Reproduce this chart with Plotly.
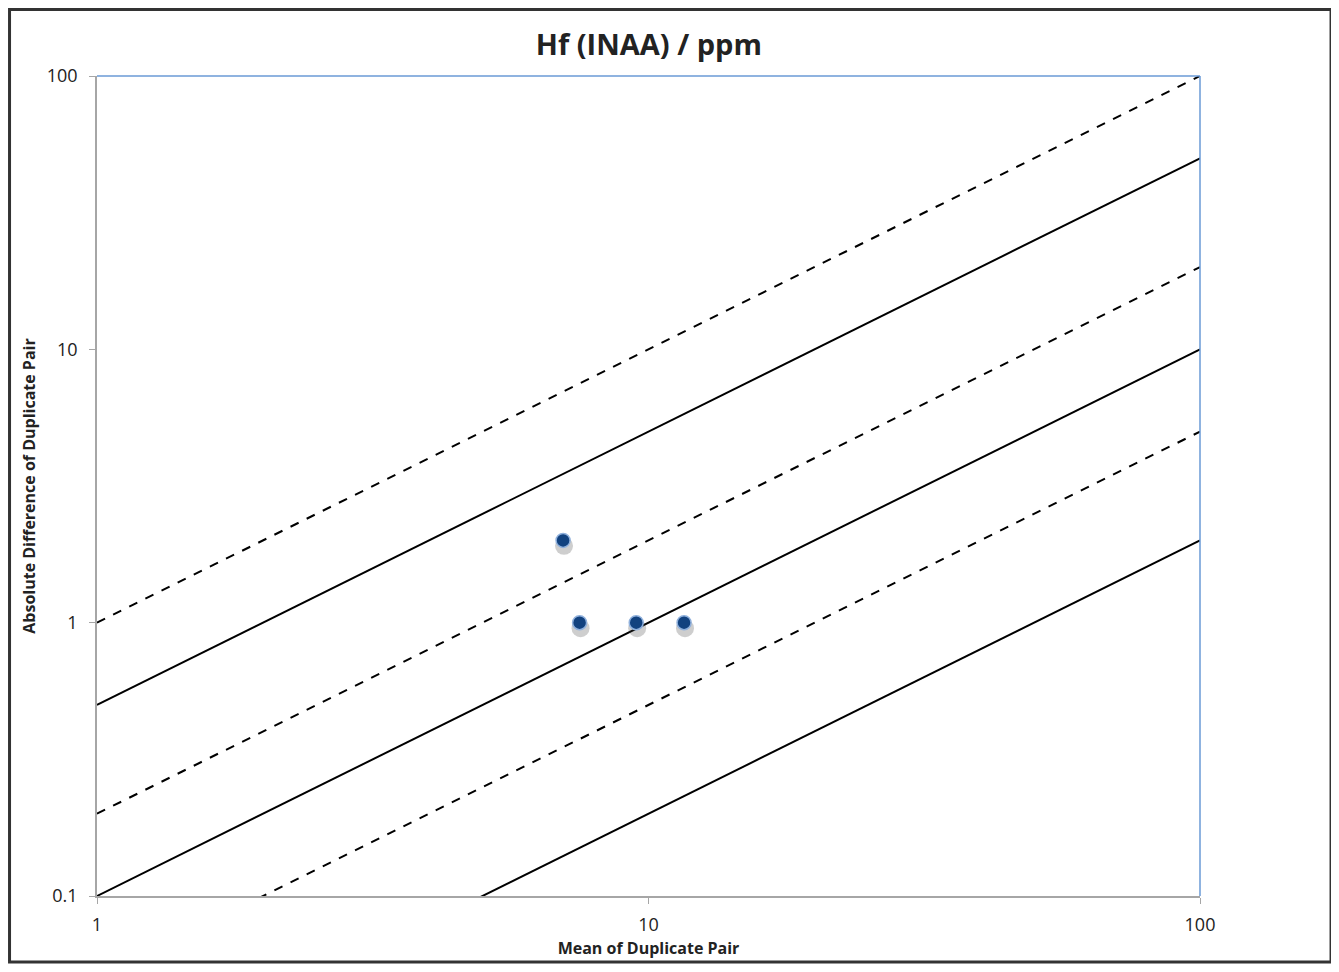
import plotly.graph_objects as go

# duplicate pairs (mean, absolute difference)
pair_mean = [7.0, 7.5, 9.5, 11.6]
pair_diff = [2.0, 1.0, 1.0, 1.0]

# precision reference lines: diff = ratio * mean
ratios = [1.0, 0.5, 0.2, 0.1, 0.05, 0.02]
dashed = [True, False, True, False, True, False]
line_x = [1, 100]

x_ticks = [1, 10, 100]
x_labels = ["1", "10", "100"]
y_ticks = [0.1, 1, 10, 100]
y_labels = ["0.1", "1", "10", "100"]

font = "Open Sans, Lato, sans-serif"

fig = go.Figure()

for r, d in zip(ratios, dashed):
    fig.add_trace(go.Scatter(
        x=line_x, y=[r * v for v in line_x], mode="lines",
        line=dict(color="black", width=2, dash="dash" if d else "solid"),
        hoverinfo="skip"))

# soft shadow under the points
fig.add_trace(go.Scatter(
    x=[v * 1.004 for v in pair_mean], y=[v * 0.955 for v in pair_diff], mode="markers",
    marker=dict(size=18, color="rgba(60,60,60,0.25)", line=dict(width=0)),
    hoverinfo="skip"))
fig.add_trace(go.Scatter(
    x=pair_mean, y=pair_diff, mode="markers",
    marker=dict(size=14, color="#12427f", line=dict(color="#8fb0dc", width=1.5))))

# blue top and right borders of the plot area
fig.add_shape(type="line", xref="paper", yref="paper", x0=0, x1=1, y0=1, y1=1,
              line=dict(color="#6a9ad6", width=1.5))
fig.add_shape(type="line", xref="paper", yref="paper", x0=1, x1=1, y0=0, y1=1,
              line=dict(color="#6a9ad6", width=1.5))
# outer frame
fig.add_shape(type="rect", xref="paper", yref="paper",
              x0=-0.0793, x1=1.1188, y0=-0.0805, y1=1.0811,
              line=dict(color="#333333", width=3))

fig.update_layout(
    width=1323, height=956,
    margin=dict(l=89, r=131, t=68, b=68),
    paper_bgcolor="white", plot_bgcolor="white",
    showlegend=False,
    font=dict(family=font, color="#222222", size=15),
    title=dict(text="<b>Hf (INAA) / ppm</b>", x=0.4844, xanchor="center",
               y=0.961, yanchor="middle", font=dict(size=29, color="#222222")),
)
fig.update_xaxes(
    type="log", range=[0, 2], tickvals=x_ticks, ticktext=x_labels,
    tickfont=dict(size=18, color="#222222"), ticklabelstandoff=6, automargin=False,
    showgrid=False, zeroline=False, showline=True, linecolor="#a6a6a6", linewidth=1.5,
    ticks="outside", ticklen=6, tickcolor="#a6a6a6",
    title=dict(text="<b>Mean of Duplicate Pair</b>", font=dict(size=16), standoff=7))
fig.update_yaxes(
    type="log", range=[-1, 2], tickvals=y_ticks, ticktext=y_labels,
    tickfont=dict(size=18, color="#222222"), ticklabelstandoff=8, automargin=False,
    showgrid=False, zeroline=False, showline=True, linecolor="#a6a6a6", linewidth=1.5,
    ticks="outside", ticklen=6, tickcolor="#a6a6a6",
    title=dict(text="<b>Absolute Difference of Duplicate Pair</b>", font=dict(size=16), standoff=7))

fig.write_html("out.html")
